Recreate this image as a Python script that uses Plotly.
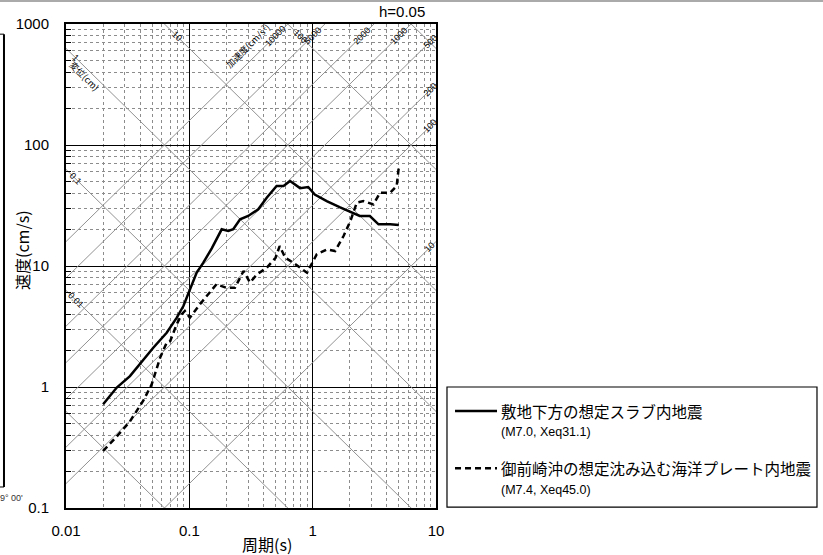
import numpy as np
import plotly.graph_objects as go

# period (s) and velocity (cm/s)
slab_T = [0.02, 0.0258, 0.033, 0.0438, 0.051, 0.0655, 0.0791, 0.0895, 0.101, 0.1145,
          0.1295, 0.152, 0.183, 0.207, 0.227, 0.258, 0.30, 0.362, 0.424, 0.51,
          0.58, 0.656, 0.79, 0.92, 1.04, 1.30, 1.67, 2.07, 2.41, 2.91,
          3.42, 4.25, 5.0]
slab_V = [0.72, 0.99, 1.23, 1.75, 2.11, 2.81, 3.74, 4.67, 6.3, 8.8,
          10.6, 14.0, 20.1, 19.5, 20.1, 24.3, 25.9, 29.4, 36.7, 45.9,
          45.9, 50.4, 44.0, 45.0, 39.0, 34.4, 30.5, 27.6, 25.9, 25.9,
          22.1, 22.1, 21.8]

omaezaki_T = [0.02, 0.0258, 0.033, 0.0423, 0.0495, 0.058, 0.0655, 0.07, 0.079, 0.0865,
              0.092, 0.101, 0.122, 0.166, 0.20, 0.234, 0.258, 0.275, 0.31, 0.353,
              0.424, 0.50, 0.54, 0.60, 0.70, 0.90, 1.08, 1.30, 1.52, 1.78,
              2.02, 2.28, 2.58, 3.11, 3.52, 4.25, 4.80, 5.0]
omaezaki_V = [0.296, 0.39, 0.52, 0.77, 1.05, 1.75, 2.32, 2.4, 3.3, 3.98,
              4.25, 3.74, 4.83, 7.07, 6.6, 6.6, 8.0, 9.1, 7.3, 8.5,
              9.67, 11.7, 14.6, 11.7, 10.6, 8.8, 12.5, 13.7, 13.3, 17.7,
              23.5, 33.4, 34.4, 32.3, 40.3, 40.3, 45.9, 66.5]

# tripartite guide lines
disp_lines = [0.001, 0.01, 0.1, 1, 10, 100, 1000]          # cm
acc_lines = [10, 100, 200, 500, 1000, 2000, 5000, 10000]   # cm/s2
disp_left_labels = ["1", "0.1", "0.01"]
disp_top_labels = ["10", "100"]
acc_top_labels = ["10000", "5000", "2000", "1000"]
acc_right_labels = ["500", "200", "100", "10"]

x_ticks = [0.01, 0.1, 1, 10]
x_ticktext = ["0.01", "0.1", "1", "10"]
y_ticks = [0.1, 1, 10, 100, 1000]
y_ticktext = ["0.1", "1", "10", "100", "1000"]

name1 = "敷地下方の想定スラブ内地震"
sub1 = "(M7.0, Xeq31.1)"
name2 = "御前崎沖の想定沈み込む海洋プレート内地震"
sub2 = "(M7.4, Xeq45.0)"

FONT = "Liberation Sans, Arial, Noto Sans CJK JP"
JP = "Noto Sans CJK JP, Liberation Sans"

fig = go.Figure()

T = np.array([0.001, 100.0])
for d in disp_lines:
    fig.add_trace(go.Scatter(x=T, y=2 * np.pi * d / T, mode="lines",
                             line=dict(color="#929292", width=1),
                             showlegend=False, hoverinfo="skip"))
for a in acc_lines:
    fig.add_trace(go.Scatter(x=T, y=a * T / (2 * np.pi), mode="lines",
                             line=dict(color="#929292", width=1),
                             showlegend=False, hoverinfo="skip"))

fig.add_trace(go.Scatter(x=slab_T, y=slab_V, mode="lines", name=name1,
                         line=dict(color="black", width=2.5), showlegend=False))
fig.add_trace(go.Scatter(x=omaezaki_T, y=omaezaki_V, mode="lines", name=name2,
                         line=dict(color="black", width=2.5, dash="6px,4px"),
                         showlegend=False))

minor_vals = [m * 10.0 ** e for e in range(-3, 4) for m in range(2, 10)]

fig.update_xaxes(type="log", range=[-2, 1], tickvals=x_ticks, ticktext=x_ticktext,
                 showgrid=True, gridcolor="black", gridwidth=1,
                 showline=True, linecolor="black", linewidth=2, mirror=True,
                 ticks="", ticklabelstandoff=8,
                 tickfont=dict(family=FONT, size=15, color="black"),
                 minor=dict(tickvals=minor_vals, showgrid=True, gridcolor="#8c8c8c",
                            griddash="dot", gridwidth=1),
                 zeroline=False)
fig.update_yaxes(type="log", range=[-1, 3], tickvals=y_ticks, ticktext=y_ticktext,
                 showgrid=True, gridcolor="black", gridwidth=1,
                 showline=True, linecolor="black", linewidth=2, mirror=True,
                 ticks="", ticklabelstandoff=12,
                 tickfont=dict(family=FONT, size=15, color="black"),
                 minor=dict(tickvals=minor_vals, showgrid=True, gridcolor="#8c8c8c",
                            griddash="dot", gridwidth=1, ticks="inside", ticklen=5,
                            tickcolor="black"),
                 zeroline=False)

ann = []
lab = dict(family=FONT, size=9, color="black")
C = dict(xanchor="center", yanchor="middle", showarrow=False)

# labels along the guide lines
left_logT = -1.92
for s in disp_left_labels:
    v = 2 * np.pi * float(s) / 10 ** left_logT
    ann.append(dict(x=left_logT, y=np.log10(v), text=s, textangle=45, font=lab, **C))
ann.append(dict(x=-1.846, y=2.57, text="変位(cm)", textangle=45,
                font=dict(family=JP, size=9, color="black"), **C))
top_logV = 2.9
for s in disp_top_labels:
    t = 2 * np.pi * float(s) / 10 ** top_logV
    ann.append(dict(x=np.log10(t), y=top_logV, text=s, textangle=45, font=lab, **C))
for s in acc_top_labels:
    t = 2 * np.pi * 10 ** top_logV / float(s)
    ann.append(dict(x=np.log10(t), y=top_logV, text=s, textangle=-45, font=lab, **C))
right_logT = 0.952
for s in acc_right_labels:
    v = float(s) * 10 ** right_logT / (2 * np.pi)
    ann.append(dict(x=right_logT, y=np.log10(v), text=s, textangle=-45, font=lab, **C))
ann.append(dict(x=-0.532, y=2.818, text="加速度(cm/s²)", textangle=-45,
                font=dict(family=JP, size=9, color="black"), **C))

P = dict(xref="paper", yref="paper", showarrow=False, yanchor="middle")
# axis titles and heading
ann.append(dict(x=-0.119, y=0.533, text="速度(cm/s)", textangle=-90, xanchor="center",
                font=dict(family=JP, size=16, color="black"), **P))
ann.append(dict(x=0.543, y=-0.075, text="周期(s)", xanchor="center",
                font=dict(family=JP, size=16, color="black"), **P))
ann.append(dict(x=0.976, y=1.026, text="h=0.05", xanchor="right",
                font=dict(family=FONT, size=15, color="black"), **P))

# legend drawn by hand
ann.append(dict(x=1.170, y=0.2004, text=name1, xanchor="left",
                font=dict(family=JP, size=15.5, color="black"), **P))
ann.append(dict(x=1.170, y=0.158, text=sub1, xanchor="left",
                font=dict(family=FONT, size=12.5, color="black"), **P))
ann.append(dict(x=1.170, y=0.0820, text=name2, xanchor="left",
                font=dict(family=JP, size=15.5, color="black"), **P))
ann.append(dict(x=1.170, y=0.037, text=sub2, xanchor="left",
                font=dict(family=FONT, size=12.5, color="black"), **P))

# remnant of the neighbouring figure on the left
ann.append(dict(x=-0.111, y=0.0207, text="9° 00'", xanchor="right",
                font=dict(family=FONT, size=9, color="#333"), **P))

shapes = [
    dict(type="rect", xref="paper", yref="paper", x0=1.0297, x1=2.0297, y0=0.002, y1=0.25,
         line=dict(color="black", width=1.2)),
    dict(type="line", xref="paper", yref="paper", x0=1.0514, x1=1.1649, y0=0.2004, y1=0.2004,
         line=dict(color="black", width=2.5)),
    dict(type="line", xref="paper", yref="paper", x0=1.0514, x1=1.1649, y0=0.0820, y1=0.0820,
         line=dict(color="black", width=2.5, dash="6px,4px")),
    dict(type="line", xref="paper", yref="paper", x0=-0.18, x1=2.05, y0=1.0475, y1=1.0475,
         line=dict(color="#aaaaaa", width=2)),
    dict(type="line", xref="paper", yref="paper", x0=-0.1676, x1=-0.1676, y0=0.0434, y1=0.979,
         line=dict(color="black", width=2)),
    dict(type="line", xref="paper", yref="paper", x0=-0.18, x1=-0.1676, y0=0.979, y1=0.979,
         line=dict(color="black", width=1)),
    dict(type="line", xref="paper", yref="paper", x0=-0.18, x1=-0.1676, y0=0.0434, y1=0.0434,
         line=dict(color="black", width=1)),
]

fig.update_layout(width=823, height=555, autosize=False,
                  margin=dict(l=66, r=387, t=24, b=47),
                  paper_bgcolor="white", plot_bgcolor="white",
                  annotations=ann, shapes=shapes, showlegend=False)

# drop the page's default 8px body margin so the figure sits at the window corner
fig.write_html("out.html", config={"displayModeBar": False},
               post_script="document.body.style.margin='0';")
